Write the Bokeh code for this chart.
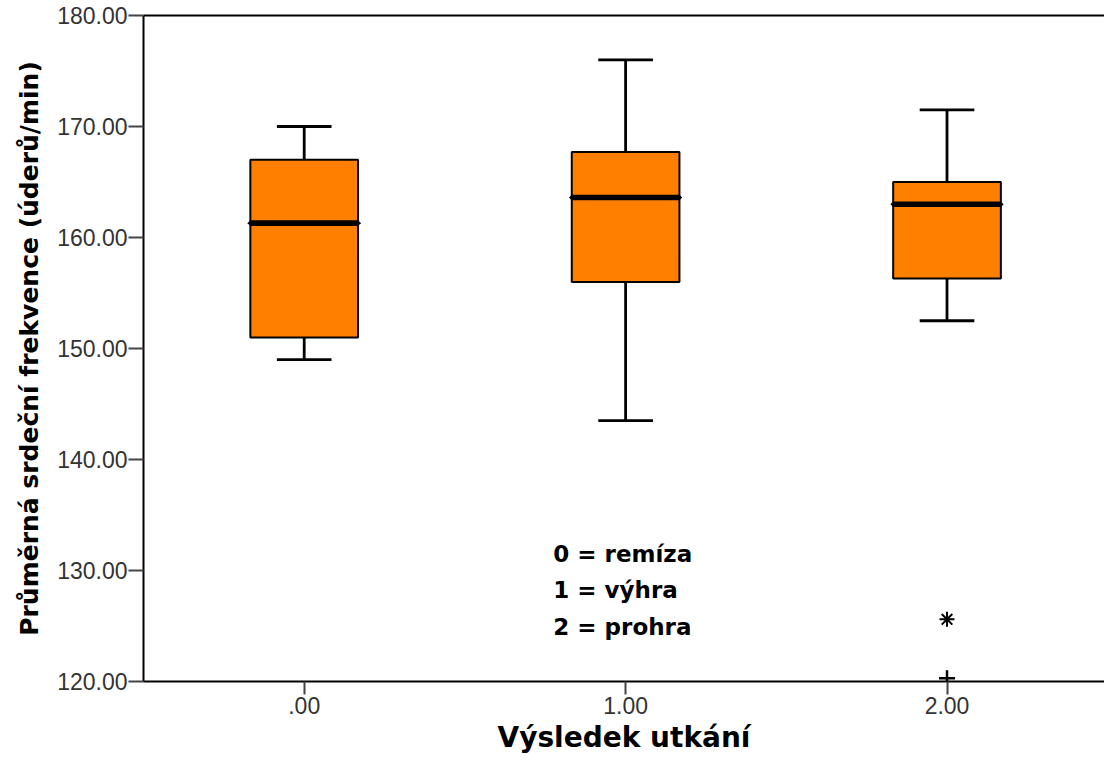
from bokeh.plotting import figure
from bokeh.models import ColumnDataSource, Label, LinearAxis, FixedTicker, CustomJSTickFormatter, Range1d
from bokeh.embed import file_html
from bokeh.resources import INLINE

categories = [0.0, 1.0, 2.0]
whisker_low = [149.0, 143.5, 152.5]
q1 = [151.0, 156.0, 156.3]
median = [161.3, 163.6, 163.0]
q3 = [167.0, 167.7, 165.0]
whisker_high = [170.0, 176.0, 171.5]
extreme_x = [2.0]
extreme_y = [125.6]
outlier_x = [2.0]
outlier_y = [120.3]
y_ticks = [120, 130, 140, 150, 160, 170, 180]
x_ticks = [0, 1, 2]
legend_lines = ["0 = remíza", "1 = výhra", "2 = prohra"]

box_w = 0.335
cap_w = 0.17

src = ColumnDataSource(dict(
    x=categories, lo=whisker_low, q1=q1, med=median, q3=q3, hi=whisker_high,
    cl=[c - cap_w / 2 for c in categories], cr=[c + cap_w / 2 for c in categories],
))

p = figure(width=1104, height=760, output_backend="svg", toolbar_location=None,
           x_range=Range1d(-0.5, 2.49), y_range=Range1d(120, 180),
           min_border_left=143, min_border_right=0, min_border_top=15, min_border_bottom=79)
p.outline_line_color = None
p.grid.visible = False
p.background_fill_color = "white"
p.border_fill_color = "white"

# whiskers
p.segment(x0="x", y0="q3", x1="x", y1="hi", source=src, line_color="black", line_width=2.8)
p.segment(x0="x", y0="lo", x1="x", y1="q1", source=src, line_color="black", line_width=2.8)
p.segment(x0="cl", y0="hi", x1="cr", y1="hi", source=src, line_color="black", line_width=2.8)
p.segment(x0="cl", y0="lo", x1="cr", y1="lo", source=src, line_color="black", line_width=2.8)
# boxes
p.vbar(x="x", width=box_w, bottom="q1", top="q3", source=src,
       fill_color="#FF8000", line_color="black", line_width=2)
# medians
p.rect(x="x", y="med", width=box_w, height=0.01, source=src, fill_color="black",
       line_color="black", line_width=5.5)

p.scatter(extreme_x, extreme_y, marker="asterisk", size=15, line_color="black", line_width=2)
p.scatter(outlier_x, outlier_y, marker="cross", size=16, line_color="black", line_width=2.5)

# axes
p.yaxis.ticker = FixedTicker(ticks=y_ticks)
p.yaxis.formatter = CustomJSTickFormatter(code="return tick.toFixed(2);")
p.xaxis.ticker = FixedTicker(ticks=x_ticks)
p.xaxis.formatter = CustomJSTickFormatter(code="var s = tick.toFixed(2); return s.startsWith('0') ? s.substring(1) : s;")
for ax in (p.xaxis[0], p.yaxis[0]):
    ax.axis_line_color = "black"
    ax.axis_line_width = 2
    ax.major_tick_line_color = "#444444"
    ax.major_tick_line_width = 2
    ax.minor_tick_line_color = None
    ax.major_label_text_font = "Liberation Sans"
    ax.major_label_text_font_size = "23px"
    ax.major_label_text_color = "#333333"
    ax.axis_label_text_font = "DejaVu Sans"
    ax.axis_label_text_font_style = "bold"
    ax.axis_label_text_color = "black"
p.yaxis.axis_label_text_font_size = "25px"
p.xaxis.axis_label_text_font_size = "28px"
p.yaxis.major_tick_out = 15
p.yaxis.major_tick_in = 0
p.xaxis.major_tick_out = 13
p.xaxis.major_tick_in = 0
p.yaxis.axis_label = "Průměrná srdeční frekvence (úderů/min)"
p.xaxis.axis_label = "Výsledek utkání"
p.yaxis.major_label_standoff = 1
p.xaxis.major_label_standoff = 2
p.yaxis.axis_label_standoff = 10
p.xaxis.axis_label_standoff = 4

top_axis = LinearAxis(ticker=FixedTicker(ticks=[]), major_label_text_font_size="0px",
                      axis_line_color="black", axis_line_width=2,
                      major_tick_line_color=None, minor_tick_line_color=None)
p.add_layout(top_axis, "above")

for i, txt in enumerate(legend_lines):
    p.add_layout(Label(x=0.775, y=131.5 - i * 3.3, text=txt, text_font="DejaVu Sans",
                       text_font_style="bold", text_font_size="23px", text_color="black",
                       text_baseline="middle"))

open("out.html", "w").write(file_html(p, INLINE))
